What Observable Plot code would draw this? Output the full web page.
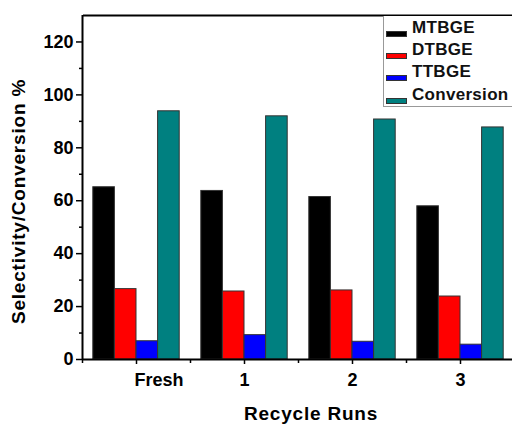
<!DOCTYPE html>
<html>
<head>
<meta charset="utf-8">
<script src="https://cdn.jsdelivr.net/npm/d3@7"></script>
<script src="https://cdn.jsdelivr.net/npm/@observablehq/plot@0.6"></script>
<style>
  html, body { margin: 0; padding: 0; background: #fff; overflow: hidden; }
  #wrap { position: relative; width: 512px; height: 424px; overflow: hidden; font-family: "Liberation Sans", Arial, sans-serif; }
  #legend { position: absolute; left: 383px; top: 16px; width: 150px; height: 90px; border: 1px solid #999; border-top: none; background: #fff; }
  .row { position: absolute; left: 0; height: 22px; }
  .sw { position: absolute; left: 2px; width: 21px; height: 6px; border: 1px solid #333; box-sizing: border-box; }
  .lab { position: absolute; left: 28px; font-weight: bold; font-size: 17px; letter-spacing: 0.3px; color: #111; white-space: nowrap; }
</style>
</head>
<body>
<div id="wrap"></div>
<script>
const runs = ["Fresh", "1", "2", "3"];
const series = ["MTBGE", "DTBGE", "TTBGE", "Conversion"];
const seriesColors = ["#000000", "#ff0000", "#0000ff", "#008080"];
const mtbge = [65.1, 63.7, 61.4, 57.9];
const dtbge = [26.6, 25.7, 26.1, 23.8];
const ttbge = [6.9, 9.2, 6.7, 5.6];
const conversion = [93.8, 91.9, 90.7, 87.7];
const yMajorTicks = [0, 20, 40, 60, 80, 100, 120];
const yMinorTicks = [10, 30, 50, 70, 90, 110];
const xMinorTicks = [-0.5, 0.5, 1.5, 2.5, 3.5];
const xTitle = "Recycle Runs";
const yTitle = "Selectivity/Conversion %";

const values = [mtbge, dtbge, ttbge, conversion];
const table = runs.flatMap((r, i) => series.map((s, j) => ({run: i, runLabel: r, s: j, series: s, value: values[j][i]})));

const nS = series.length;
const groupW = 0.8;
const barW = groupW / nS;

const plot = Plot.plot({
  width: 512,
  height: 424,
  marginLeft: 83,
  marginTop: 15,
  marginBottom: 65,
  marginRight: 0,
  style: {fontFamily: "'Liberation Sans', Arial, sans-serif", fontSize: "18px", fontWeight: "bold", background: "#fff", color: "#000"},
  x: {type: "linear", domain: [-0.5, 3.5], range: [82, 514], axis: null},
  y: {domain: [0, 130], range: [359, 15], axis: null},
  color: {domain: series, range: seriesColors},
  marks: [
    Plot.rectY(table, {
      x1: d => d.run - groupW / 2 + d.s * barW,
      x2: d => d.run - groupW / 2 + (d.s + 1) * barW,
      y: "value",
      fill: "series",
      stroke: "#333",
      strokeWidth: 1
    }),
    Plot.axisY({ticks: yMajorTicks, tickSize: 7, tickPadding: 3, tickFormat: d => d, label: null, strokeWidth: 1.5, fontSize: 18, fontWeight: "bold"}),
    Plot.axisY({ticks: yMinorTicks, tickSize: 4, tickFormat: () => "", label: null, strokeWidth: 1.5}),
    Plot.axisX({ticks: [0, 1, 2, 3], tickSize: 5, tickFormat: () => "", label: null, strokeWidth: 1.5}),
    Plot.axisX({ticks: xMinorTicks, tickSize: 4, tickFormat: () => "", label: null, strokeWidth: 1.5}),
    Plot.ruleX([-0.5], {strokeWidth: 2}),
    Plot.ruleY([0, 130], {strokeWidth: 2}),
    Plot.text(runs.slice(0, 1), {x: (d, i) => i, text: d => d, frameAnchor: "bottom", dy: 21, dx: -2, lineAnchor: "middle", textAnchor: "start", fontSize: 18, fontWeight: "bold"}),
    Plot.text(runs.slice(1), {x: (d, i) => i + 1, text: d => d, frameAnchor: "bottom", dy: 21, lineAnchor: "middle", textAnchor: "middle", fontSize: 18, fontWeight: "bold"}),
    Plot.text([xTitle], {frameAnchor: "bottom", dy: 54, dx: 13, lineAnchor: "middle", textAnchor: "middle", fontSize: 19, fontWeight: "bold", style: "letter-spacing:0.8px"}),
    Plot.text([yTitle], {frameAnchor: "left", rotate: -90, dx: -65, dy: 14, lineAnchor: "middle", textAnchor: "middle", fontSize: 19, fontWeight: "bold"})
  ]
});

// letter spacing for the axis titles
plot.querySelectorAll("text").forEach(t => {
  if (t.textContent === xTitle || t.textContent === yTitle) t.style.letterSpacing = "0.8px";
});

const wrap = document.getElementById("wrap");
wrap.appendChild(plot);

const colorScale = plot.scale("color");
const legend = document.createElement("div");
legend.id = "legend";
const rowTops = [1, 23, 45, 68];
series.forEach((s, i) => {
  const row = document.createElement("div");
  row.className = "row";
  row.style.top = rowTops[i] + "px";
  const sw = document.createElement("div");
  sw.className = "sw";
  sw.style.background = colorScale.apply(s);
  sw.style.top = "14px";
  const lab = document.createElement("div");
  lab.className = "lab";
  lab.textContent = s;
  lab.style.top = "1px";
  row.appendChild(sw);
  row.appendChild(lab);
  legend.appendChild(row);
});
wrap.appendChild(legend);
</script>
</body>
</html>
